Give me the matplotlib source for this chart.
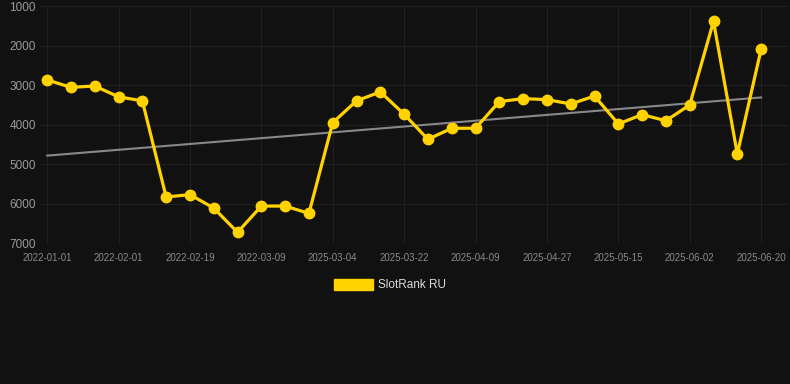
import numpy as np
from matplotlib import pyplot as plt
import matplotlib.patches as mpatches

tick_labels = ['2022-01-01', '2022-02-01', '2022-02-19', '2022-03-09', '2025-03-04',
               '2025-03-22', '2025-04-09', '2025-04-27', '2025-05-15', '2025-06-02',
               '2025-06-20']
ranks = [2870, 3060, 3025, 3300, 3400, 5835, 5775, 6115, 6730, 6065,
         6065, 6250, 3955, 3400, 3175, 3740, 4375, 4095, 4095, 3420,
         3345, 3370, 3480, 3280, 3985, 3750, 3905, 3505, 1390, 4745,
         2095]
series_name = 'SlotRank RU'

bg = '#111111'
gold = '#FFD200'
plt.rcParams['font.family'] = ['Liberation Sans', 'DejaVu Sans']

fig = plt.figure(figsize=(7.9, 3.84), dpi=100, facecolor=bg)
ax = fig.add_axes([40 / 790, 1 - 243 / 384, 748 / 790, 237 / 384], facecolor=bg)

x = np.arange(len(ranks))
y = np.array(ranks, dtype=float)

# trend line (linear fit)
slope, intercept = np.polyfit(x, y, 1)
ax.plot(x, slope * x + intercept, color='#888888', lw=1.5, zorder=2)

ax.plot(x, y, color=gold, lw=2.3, marker='o', markersize=7.5, zorder=3)

ax.set_ylim(7000, 1000)
ax.set_yticks(np.arange(1000, 7001, 1000))
ax.set_xlim(-0.3, 31.13)
ax.set_xticks(x[::3])
ax.set_xticklabels(tick_labels)

ax.grid(True, color='#202020', lw=0.8)
ax.set_axisbelow(True)
for s in ax.spines.values():
    s.set_visible(False)
ax.tick_params(axis='y', colors='#9a9a9a', labelsize=8.5, length=0, pad=3)
ax.tick_params(axis='x', colors='#8a8a8a', labelsize=7, length=0, pad=7)

handle = mpatches.Patch(color=gold, label=series_name)
fig.legend(handles=[handle], loc='center', bbox_to_anchor=(390 / 790, 1 - 285 / 384),
           frameon=False, labelcolor='#dddddd', fontsize=8.5, handlelength=3.3,
           handleheight=1.1, handletextpad=0.5)

fig.savefig('out.png', dpi=100, facecolor=bg)
